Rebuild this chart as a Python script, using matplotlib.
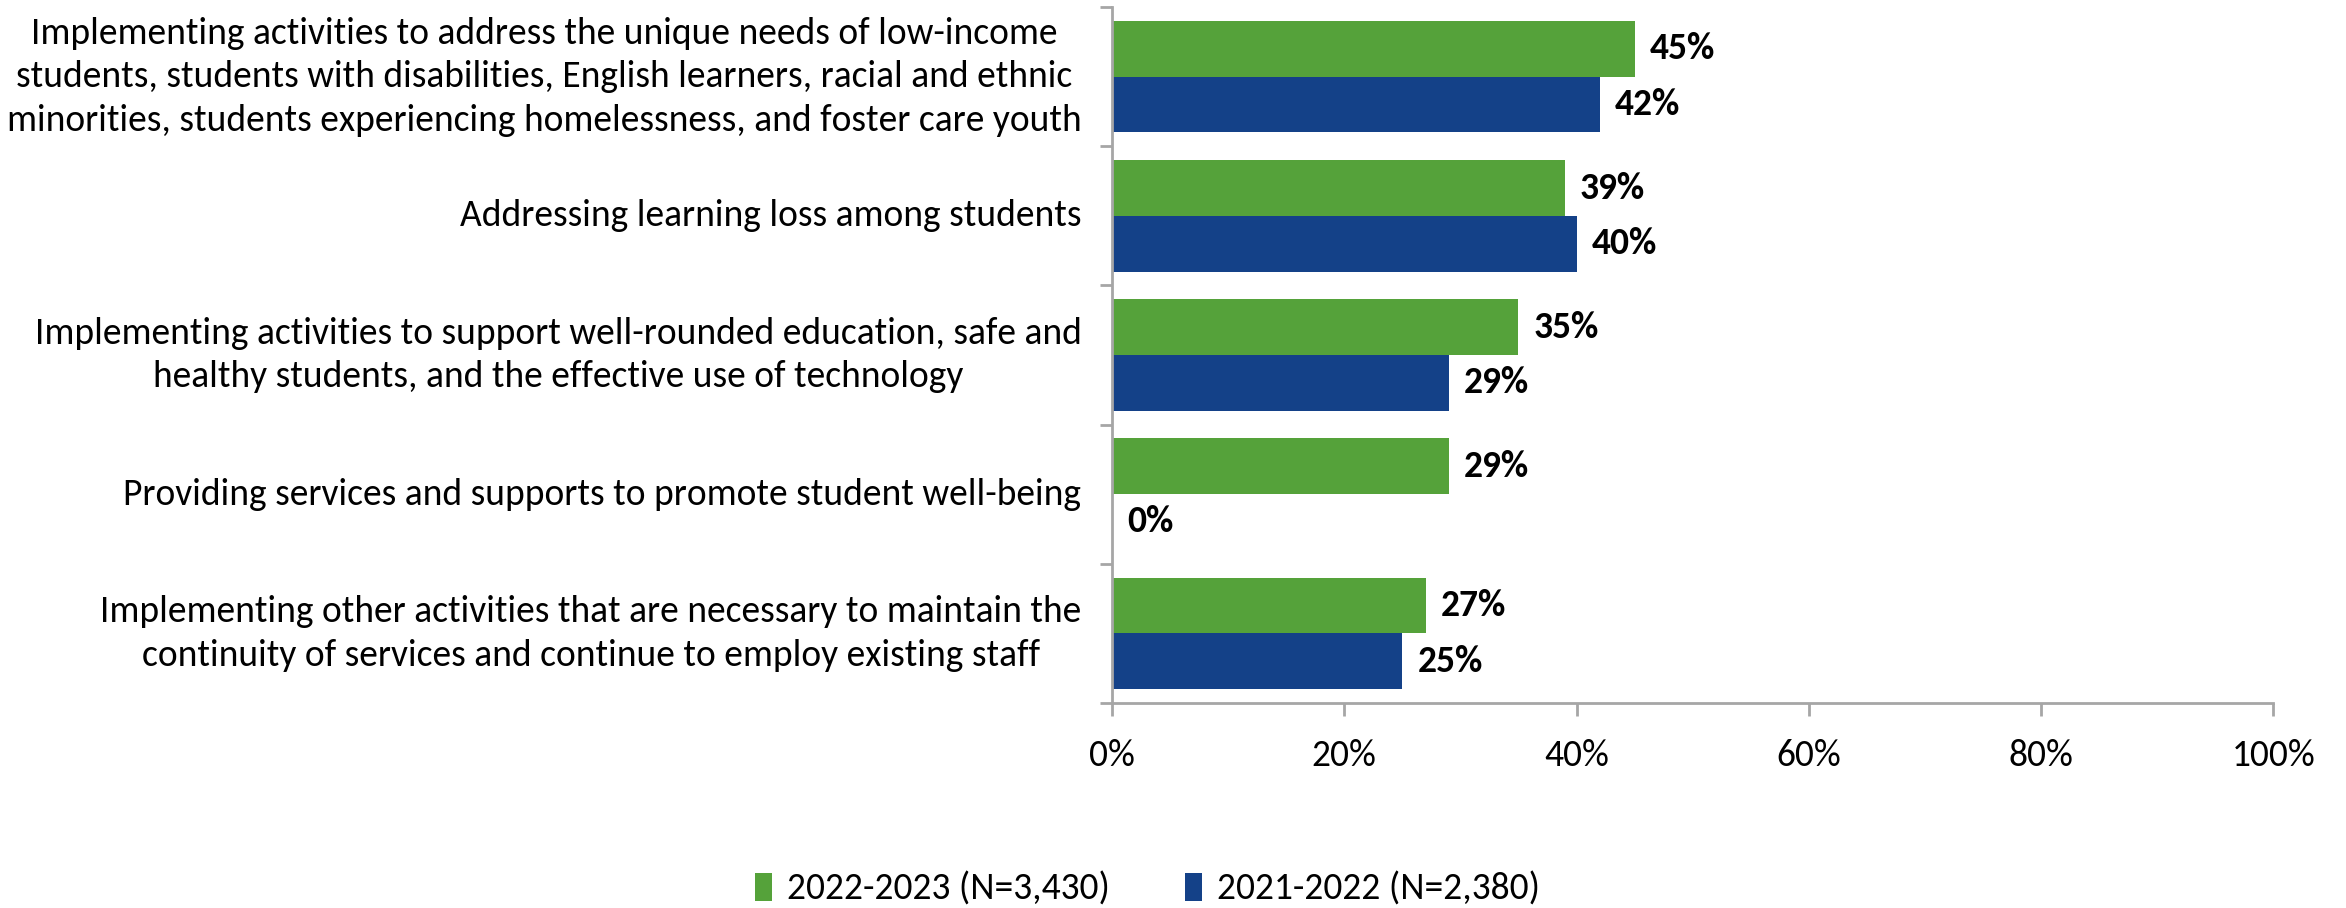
import matplotlib.pyplot as plt
import numpy as np

# data
categories = [
    'Implementing activities to address the unique needs of low-income\n'
    'students, students with disabilities, English learners, racial and ethnic\n'
    'minorities, students experiencing homelessness, and foster care youth',
    'Addressing learning loss among students',
    'Implementing activities to support well-rounded education, safe and\n'
    'healthy students, and the effective use of technology',
    'Providing services and supports to promote student well-being',
    'Implementing other activities that are necessary to maintain the\n'
    'continuity of services and continue to employ existing staff',
]
vals_2223 = [45, 39, 35, 29, 27]
vals_2122 = [42, 40, 29, 0, 25]
series_names = ['2022-2023 (N=3,430)', '2021-2022 (N=2,380)']
xticks = [0, 20, 40, 60, 80, 100]

green = '#55A23A'
blue = '#144188'
grey = '#A6A6A6'
fs = 27

plt.rcParams['font.family'] = ['Carlito', 'DejaVu Sans']

fig = plt.figure(figsize=(23.46, 9.08), dpi=100)
ax = fig.add_axes([0.474, 0.226, 0.495, 0.766])

y = np.arange(len(categories))
h = 0.4
b1 = ax.barh(y - h / 2, vals_2223, height=h, color=green, label=series_names[0])
b2 = ax.barh(y + h / 2, vals_2122, height=h, color=blue, label=series_names[1])

for bars, vals in [(b1, vals_2223), (b2, vals_2122)]:
    for bar, v in zip(bars, vals):
        ax.text(v + 1.3, bar.get_y() + bar.get_height() / 2, f'{v}%',
                va='center', ha='left', fontsize=fs, fontweight='bold')

ax.set_xlim(0, 100)
ax.set_ylim(len(categories) - 0.5, -0.5)
ax.set_xticks(xticks)
ax.set_xticklabels([f'{t}%' for t in xticks], fontsize=fs)

# boundary ticks on major, category labels on minor
ax.set_yticks(np.arange(-0.5, len(categories), 1))
ax.set_yticklabels([])
ax.set_yticks(y, minor=True)
ax.set_yticklabels(categories, minor=True, fontsize=fs, linespacing=1.4)
for lab in ax.get_yticklabels(minor=True):
    lab.set_multialignment('center')
    lab.set_verticalalignment('center')
ax.tick_params(axis='y', which='minor', length=0, pad=22)
ax.tick_params(axis='y', which='major', length=9, color=grey, width=2)
ax.tick_params(axis='x', length=9, color=grey, width=2, pad=17)

for side in ['top', 'right']:
    ax.spines[side].set_visible(False)
for side in ['left', 'bottom']:
    ax.spines[side].set_color(grey)
    ax.spines[side].set_linewidth(2)

fig.legend(handles=[b1, b2], labels=series_names, loc='center',
           bbox_to_anchor=(0.489, 0.021), ncol=2, frameon=False, fontsize=fs,
           handlelength=0.45, handleheight=0.75, handletextpad=0.4,
           columnspacing=2.0)

fig.savefig('out.png', dpi=100)
